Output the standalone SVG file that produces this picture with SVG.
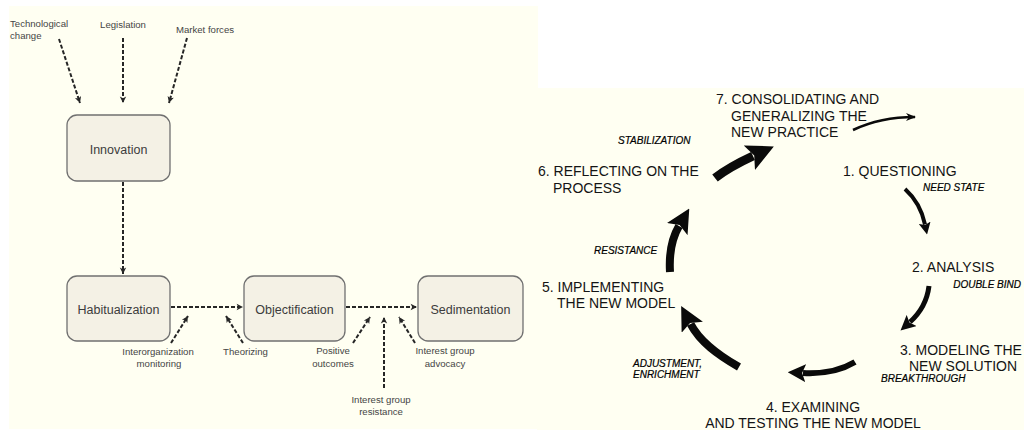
<svg xmlns="http://www.w3.org/2000/svg" width="1024" height="430" viewBox="0 0 1024 430">
<defs>
<style>
.bg{fill:#fffff2}
.node rect{fill:#f4f1e5;stroke:#707070;stroke-width:1.3}
.nl{font-family:"Liberation Sans",Arial,sans-serif;font-size:12.5px;fill:#3c3c3c;text-anchor:middle}
.sl{font-family:"Liberation Sans",Arial,sans-serif;font-size:9.6px;fill:#454545}
.dash{fill:none;stroke:#262626;stroke-width:2;stroke-dasharray:4 2;marker-end:url(#dh)}
.st{font-family:"Liberation Sans",Arial,sans-serif;font-size:14px;fill:#141414}
.it{font-family:"Liberation Sans",Arial,sans-serif;font-size:10px;font-style:italic;fill:#000000;stroke:#000000;stroke-width:0.2}
.big{fill:none;stroke:#0a0a0a;stroke-linecap:butt;marker-end:url(#bh)}
</style>
<marker id="dh" viewBox="0 0 10 10" refX="9" refY="5" markerWidth="8" markerHeight="8" markerUnits="userSpaceOnUse" orient="auto">
<path d="M1,1 L9,5 L1,9 L3,5 z" fill="#262626"/>
</marker>
<marker id="bh" viewBox="0 0 10 10" refX="1.5" refY="5" markerWidth="3" markerHeight="3" markerUnits="strokeWidth" orient="auto">
<path d="M0,0 L10,5 L0,10 L2,5 z" fill="#0a0a0a"/>
</marker>
<marker id="ch" viewBox="0 0 10 10" refX="9" refY="5" markerWidth="4" markerHeight="4" markerUnits="strokeWidth" orient="auto">
<path d="M0,1 L10,5 L0,9 L3,5 z" fill="#0a0a0a"/>
</marker>
</defs>
<rect x="0" y="0" width="1024" height="430" fill="#ffffff"/>
<rect class="bg" x="9" y="6" width="529" height="423"/>
<rect class="bg" x="537" y="88" width="487" height="342"/>

<!-- Left panel -->
<g id="innovation" class="node"><rect x="67" y="115" width="103" height="66" rx="10"/><text class="nl" x="118.5" y="154">Innovation</text></g>
<g id="habitualization" class="node"><rect x="67" y="276" width="103" height="65" rx="10"/><text class="nl" x="118.5" y="314">Habitualization</text></g>
<g id="objectification" class="node"><rect x="244" y="276" width="101" height="65" rx="10"/><text class="nl" x="294.5" y="314">Objectification</text></g>
<g id="sedimentation" class="node"><rect x="418" y="276" width="105" height="65" rx="10"/><text class="nl" x="470.5" y="314">Sedimentation</text></g>

<g id="left-labels">
<text class="sl" x="10" y="27">Technological</text>
<text class="sl" x="10" y="39">change</text>
<text class="sl" x="123" y="28" text-anchor="middle">Legislation</text>
<text class="sl" x="205" y="33" text-anchor="middle">Market forces</text>
<text class="sl" x="158" y="355" text-anchor="middle">Interorganization</text>
<text class="sl" x="159" y="367" text-anchor="middle">monitoring</text>
<text class="sl" x="245.5" y="355" text-anchor="middle">Theorizing</text>
<text class="sl" x="333" y="354" text-anchor="middle">Positive</text>
<text class="sl" x="333" y="367" text-anchor="middle">outcomes</text>
<text class="sl" x="445" y="354" text-anchor="middle">Interest group</text>
<text class="sl" x="445" y="367" text-anchor="middle">advocacy</text>
<text class="sl" x="381" y="403" text-anchor="middle">Interest group</text>
<text class="sl" x="381" y="415" text-anchor="middle">resistance</text>
</g>

<g id="left-connectors">
<path class="dash" d="M59,39 L80,103"/>
<path class="dash" d="M123,38 L123,103"/>
<path class="dash" d="M187,38 L169,103"/>
<path class="dash" d="M123,182 L123,274"/>
<path class="dash" d="M171,307 L243,307"/>
<path class="dash" d="M346,307 L417,307"/>
<path class="dash" d="M171,343 L188,316"/>
<path class="dash" d="M243,343 L226,316"/>
<path class="dash" d="M353,343 L370,317"/>
<path class="dash" d="M384,388 L384,317"/>
<path class="dash" d="M415,343 L399,317"/>
</g>

<!-- Right panel -->
<g id="step7"><text class="st" x="716" y="104">7. CONSOLIDATING AND</text><text class="st" x="731" y="121">GENERALIZING THE</text><text class="st" x="731" y="137">NEW PRACTICE</text></g>
<g id="step6"><text class="st" x="538" y="176">6. REFLECTING ON THE</text><text class="st" x="553" y="193">PROCESS</text></g>
<g id="step1"><text class="st" x="843" y="176">1. QUESTIONING</text></g>
<g id="step2"><text class="st" x="912" y="272">2. ANALYSIS</text></g>
<g id="step3"><text class="st" x="900" y="355">3. MODELING THE</text><text class="st" x="909" y="371">NEW SOLUTION</text></g>
<g id="step4"><text class="st" x="813" y="412" text-anchor="middle">4. EXAMINING</text><text class="st" x="813" y="428" text-anchor="middle">AND TESTING THE NEW MODEL</text></g>
<g id="step5"><text class="st" x="542" y="292">5. IMPLEMENTING</text><text class="st" x="557" y="308">THE NEW MODEL</text></g>

<g id="right-labels">
<text class="it" x="618" y="144">STABILIZATION</text>
<text class="it" x="923" y="191">NEED STATE</text>
<text class="it" x="1021" y="288" text-anchor="end" font-size="9.5">DOUBLE BIND</text>
<text class="it" x="881" y="382">BREAKTHROUGH</text>
<text class="it" x="633" y="367">ADJUSTMENT,</text>
<text class="it" x="633" y="378">ENRICHMENT</text>
<text class="it" x="594" y="254">RESISTANCE</text>
</g>

<g id="right-connectors">
<path d="M853,130 C872,121 893,117 915,117" fill="none" stroke="#0a0a0a" stroke-width="2.5" marker-end="url(#ch)"/>
<path class="big" stroke-width="4" d="M905,189 C915,198 922,210 925,224.5"/>
<path class="big" stroke-width="5" d="M929,286 C927,302 920,313 910,322"/>
<path class="big" stroke-width="6" d="M855,362 C840,371 822,374 803,373"/>
<path class="big" stroke-width="8" d="M739,367 C718,355 700,342 690.6,324"/>
<path class="big" stroke-width="8" d="M670,272 C669,255 672,238 679,226"/>
<path class="big" stroke-width="9" d="M715,178 C728,168 740,162 753,156"/>
</g>
</svg>
